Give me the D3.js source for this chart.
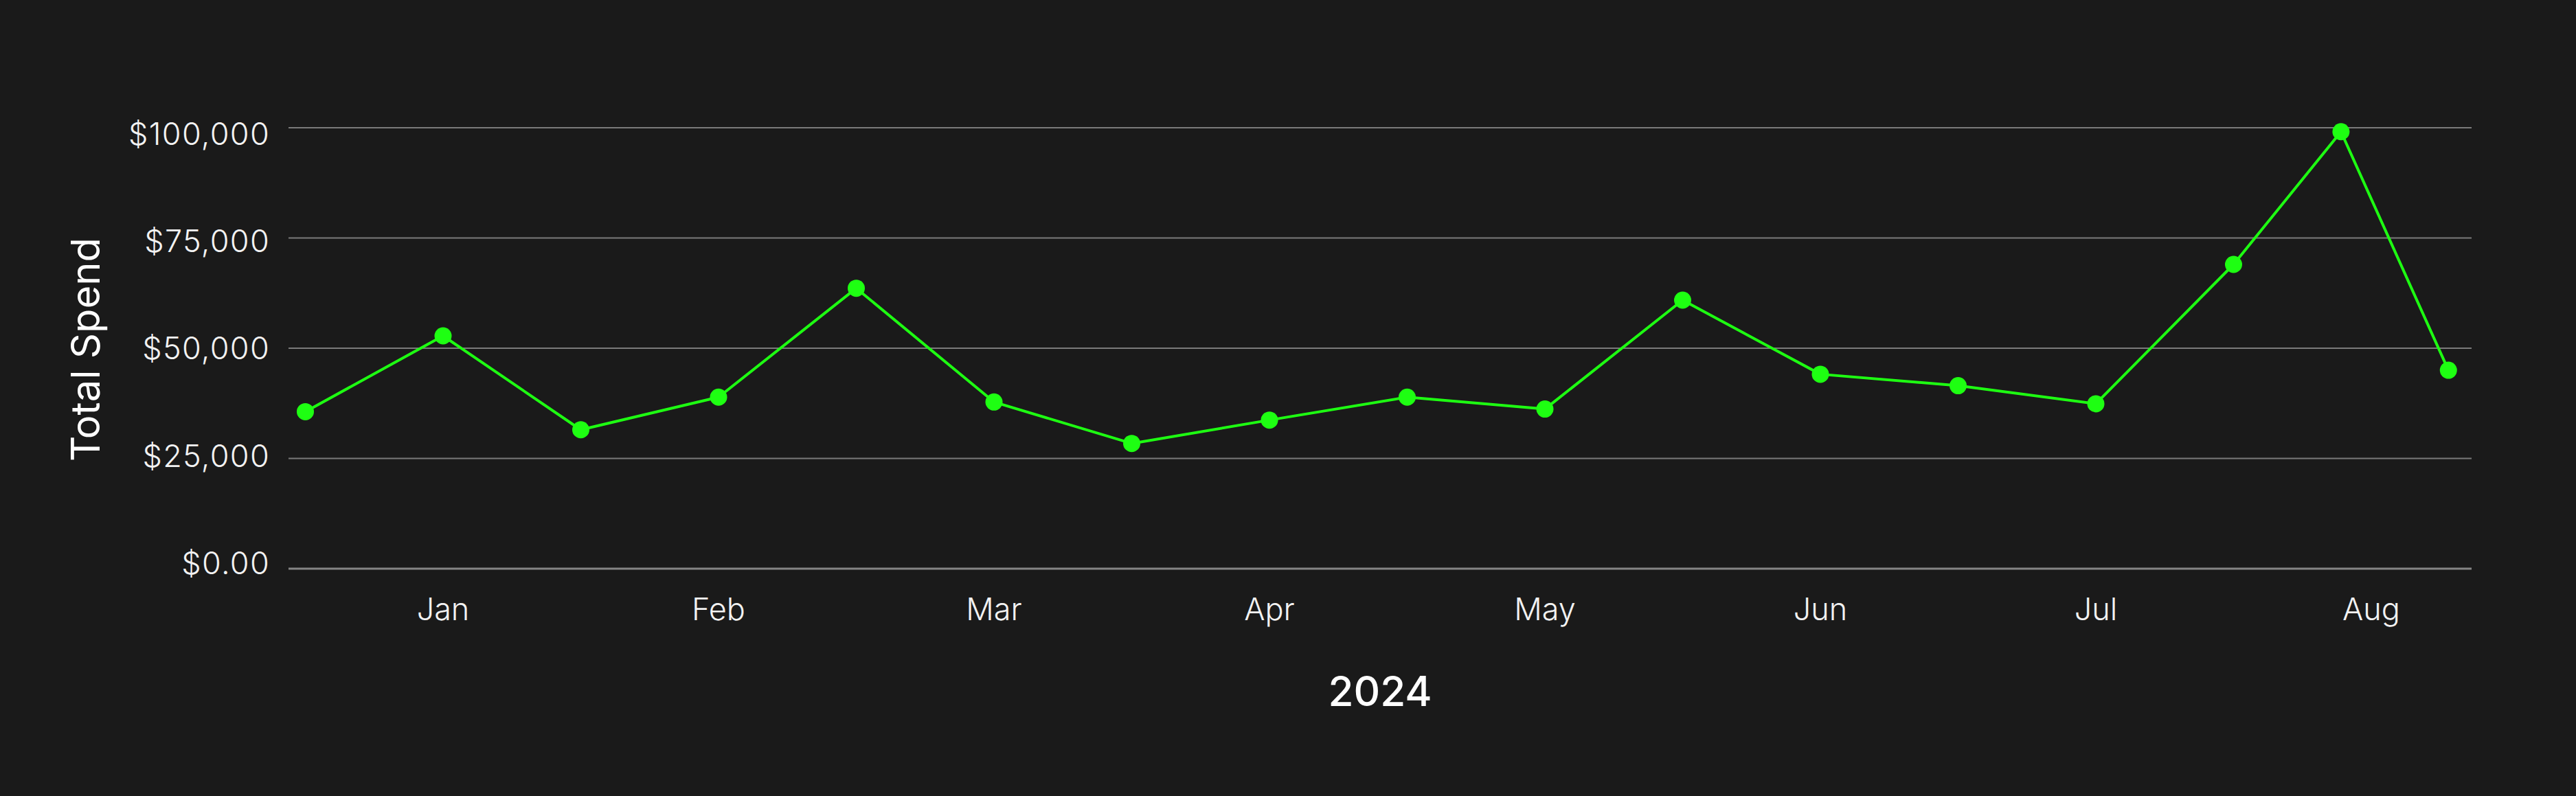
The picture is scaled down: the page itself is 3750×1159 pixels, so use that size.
<!DOCTYPE html>
<html>
<head>
<meta charset="utf-8">
<script src="https://cdn.jsdelivr.net/npm/d3@7"></script>
<style>
  html, body { margin: 0; padding: 0; background: #1a1a1a; }
  svg { display: block; }
</style>
</head>
<body>
<svg id="chart" width="3750" height="1159"></svg>
<script>
// ---- data ----
// x position in months relative to Jan 2024 (0 = Jan, 1 = Feb, ...)
const periods = [-0.5, 0, 0.5, 1, 1.5, 2, 2.5, 3, 3.5, 4, 4.5, 5, 5.5, 6, 6.5, 6.89, 7.28];
const spend = [35600, 52800, 31500, 38900, 63600, 37800, 28400, 33700, 38900, 36200, 60900, 44100, 41500, 37400, 69000, 99100, 45000];
const monthLabels = ["Jan", "Feb", "Mar", "Apr", "May", "Jun", "Jul", "Aug"];
const monthTicks = [0, 1, 2, 3, 4, 5, 6, 7];
const yTicks = [0, 25000, 50000, 75000, 100000];
const yTickLabels = ["$0.00", "$25,000", "$50,000", "$75,000", "$100,000"];
const xTitle = "2024";
const yTitle = "Total Spend";

// ---- layout ----
const W = 3750, H = 1159;
const plot = { left: 420, right: 3598, top: 186, bottom: 828 };
const svg = d3.select("#chart");
svg.append("rect").attr("width", W).attr("height", H).attr("fill", "#1a1a1a");

const monthPx = 401, janPx = 645;
const x = d3.scaleLinear()
  .domain([(plot.left - janPx) / monthPx, (plot.right - janPx) / monthPx])
  .range([plot.left, plot.right]);
const y = d3.scaleLinear().domain([0, 100000]).range([plot.bottom, plot.top]);
const yLab = d3.scaleLinear().domain([0, 100000]).range([820, 194.5]);

const font = "Inter, 'Noto Sans', sans-serif";

// gridlines
svg.append("g").selectAll("line")
  .data(yTicks)
  .join("line")
  .attr("x1", plot.left).attr("x2", plot.right)
  .attr("y1", d => y(d)).attr("y2", d => y(d))
  .attr("stroke", d => d === 0 ? "#858585" : "#7a7a7a")
  .attr("stroke-width", d => d === 0 ? 3.2 : 2);

// y tick labels
svg.append("g").selectAll("text")
  .data(yTicks)
  .join("text")
  .attr("x", 393)
  .attr("y", d => yLab(d))
  .attr("dy", "0.36em")
  .attr("text-anchor", "end")
  .attr("fill", "#f2f2f2")
  .attr("font-family", font)
  .attr("font-weight", 300)
  .attr("font-size", 45)
  .attr("letter-spacing", 1.3)
  .text((d, i) => yTickLabels[i]);

// x tick labels
svg.append("g").selectAll("text")
  .data(monthTicks)
  .join("text")
  .attr("x", d => x(d))
  .attr("y", 903)
  .attr("text-anchor", "middle")
  .attr("fill", "#f2f2f2")
  .attr("font-family", font)
  .attr("font-weight", 300)
  .attr("font-size", 45)
  .text((d, i) => monthLabels[i]);

// axis titles
svg.append("text")
  .attr("x", (plot.left + plot.right) / 2)
  .attr("y", 1028)
  .attr("text-anchor", "middle")
  .attr("fill", "#ffffff")
  .attr("font-family", font)
  .attr("font-weight", 500)
  .attr("font-size", 60)
  .text(xTitle);

svg.append("text")
  .attr("transform", `translate(145, 509) rotate(-90)`)
  .attr("text-anchor", "middle")
  .attr("fill", "#ffffff")
  .attr("font-family", font)
  .attr("font-weight", 400)
  .attr("font-size", 58)
  .text(yTitle);

// line + points
const pts = periods.map((p, i) => ({ p, v: spend[i] }));
svg.append("path")
  .datum(pts)
  .attr("fill", "none")
  .attr("stroke", "#1eff12")
  .attr("stroke-width", 4)
  .attr("stroke-linejoin", "round")
  .attr("d", d3.line().x(d => x(d.p)).y(d => y(d.v)));

svg.append("g").selectAll("circle")
  .data(pts)
  .join("circle")
  .attr("cx", d => x(d.p))
  .attr("cy", d => y(d.v))
  .attr("r", 12.5)
  .attr("fill", "#1eff12");
</script>
</body>
</html>
